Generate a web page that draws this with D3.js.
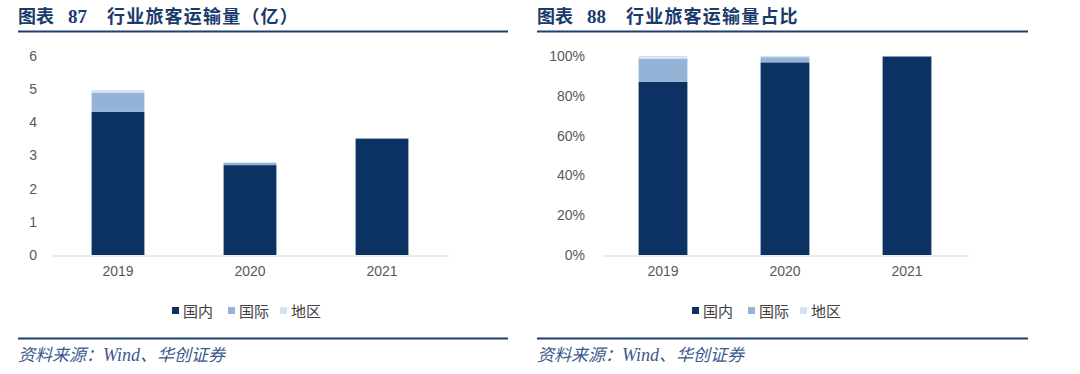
<!DOCTYPE html>
<html><head><meta charset="utf-8">
<script src="https://cdn.jsdelivr.net/npm/d3@7"></script>
<style>
body{margin:0;background:#fff;}
svg{display:block;}
</style></head>
<body>
<svg id="c" width="1080" height="374"></svg>
<script>
const years = ["2019","2020","2021"];
const seriesNames = ["国内","国际","地区"];
// 旅客运输量（亿）
const domestic = [4.32, 2.71, 3.51];
const international = [0.58, 0.07, 0.01];
const region = [0.07, 0.02, 0.00];
// 占比
const domesticShare = [0.870, 0.968, 0.998];
const internationalShare = [0.115, 0.026, 0.001];
const regionShare = [0.015, 0.006, 0.001];
const leftTicks = [0,1,2,3,4,5,6];
const rightTicks = [0,0.2,0.4,0.6,0.8,1.0];
const colors = ["#0c3263","#95b3d7","#d5e2f1"];

const svg = d3.select("#c");
const cjk = "'Noto Sans CJK SC','Noto Sans',sans-serif";
const sans = "'Liberation Sans',Arial,sans-serif";

function panel(opts){
  const g = svg.append("g");
  // title
  g.append("text").attr("x", opts.x0).attr("y", 23).attr("fill", "#1a3a6b").attr("font-weight", "bold")
    .attr("font-size", 18).attr("font-family", cjk).text("图表");
  g.append("text").attr("x", opts.x0 + 50).attr("y", 23).attr("fill", "#1a3a6b").attr("font-weight", "bold")
    .attr("font-size", 19).attr("font-family", "'Liberation Serif',serif").text(opts.num);
  g.append("text").attr("x", opts.x0 + 89).attr("y", 23).attr("fill", "#1a3a6b").attr("font-weight", "bold")
    .attr("font-size", 18).attr("letter-spacing", 1.2).attr("font-family", cjk).text(opts.title);
  g.append("line").attr("x1", opts.x0).attr("x2", opts.x1).attr("y1", 31.5).attr("y2", 31.5)
    .attr("stroke", "#1f3f6e").attr("stroke-width", 2.2);
  g.append("line").attr("x1", opts.x0).attr("x2", opts.x1).attr("y1", 338.5).attr("y2", 338.5)
    .attr("stroke", "#1f3f6e").attr("stroke-width", 2);
  const s = g.append("text").attr("x", opts.x0).attr("y", 361).attr("fill", "#3b5a8c")
    .attr("font-size", 17).attr("font-style", "italic");
  s.append("tspan").attr("font-family", cjk).text("资料来源：");
  s.append("tspan").attr("font-family", "'Liberation Serif',serif").attr("font-size", 18).text("Wind");
  s.append("tspan").attr("font-family", cjk).text("、华创证券");

  const x = d3.scaleBand().domain(years).range(opts.xr).paddingInner(0.6).paddingOuter(0.3);
  const y = d3.scaleLinear().domain(opts.ydom).range([255, 56]);

  // axis labels
  const ya = d3.axisLeft(y).tickValues(opts.ticks).tickSize(0).tickFormat(opts.fmt);
  const yg = g.append("g").attr("transform", `translate(${opts.yLabelX},0)`).call(ya);
  yg.select(".domain").remove();
  yg.selectAll("text").attr("font-family", sans).attr("font-size", 14).attr("fill", "#595959").attr("dx", 0);

  const stack = d3.stack().keys([0,1,2]).value((d,k)=>d[k]);
  const rows = years.map((yr,i)=>opts.data.map(arr=>arr[i]));
  const layers = stack(rows);
  layers.forEach((layer, k)=>{
    g.append("g").selectAll("rect").data(layer).join("rect")
      .attr("x", (d,i)=>x(years[i]))
      .attr("width", x.bandwidth())
      .attr("y", d=>y(d[1]))
      .attr("height", d=>Math.max(0, y(d[0]) - y(d[1])))
      .attr("fill", colors[k]);
  });

  const xa = d3.axisBottom(x).tickSize(0).tickPadding(11);
  const xg = g.append("g").attr("transform", `translate(0,255.5)`).call(xa);
  xg.select(".domain").attr("stroke", "#d9d9d9").attr("stroke-width", 1.2);
  xg.selectAll("text").attr("font-family", sans).attr("font-size", 14).attr("fill", "#595959");

  // legend
  const lg = g.append("g");
  const lx = [0, 56, 108];
  seriesNames.forEach((n,k)=>{
    lg.append("rect").attr("x", opts.legX + lx[k]).attr("y", 307).attr("width", 7).attr("height", 7).attr("fill", colors[k]);
    lg.append("text").attr("x", opts.legX + lx[k] + 11).attr("y", 316.5)
      .attr("font-family", cjk).attr("font-size", 15).attr("fill", "#404040").text(n);
  });
}

panel({x0:18, x1:508, num:"87", title:"行业旅客运输量（亿）", xr:[52,448], ydom:[0,6], ticks:leftTicks,
  fmt:d3.format("d"), yLabelX:40, data:[domestic, international, region], legX:172});
panel({x0:537, x1:1028, num:"88", title:"行业旅客运输量占比", xr:[602,968], ydom:[0,1], ticks:rightTicks,
  fmt:d3.format(".0%"), yLabelX:588, data:[domesticShare, internationalShare, regionShare], legX:692});
</script>
</body></html>
